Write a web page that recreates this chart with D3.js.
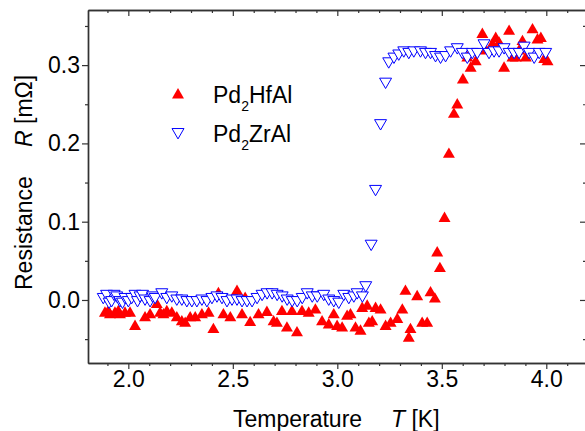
<!DOCTYPE html>
<meta charset="utf-8">
<head>
  <title>Resistance vs temperature</title>
</head>
<style>
body {
  margin: 0;
  background: #fff;
}
svg text {
  font-family: "Liberation Sans", Arial, sans-serif;
  fill: #000;
}
</style>
<body>
<script src="https://cdnjs.cloudflare.com/ajax/libs/d3/7.8.5/d3.min.js"></script>
<script>

// Pd2HfAl (red, filled up-triangles)
var hfT = [1.888, 1.904, 1.912, 1.936, 1.952, 1.960, 1.984, 2.008, 2.032, 2.056,
  2.080, 2.104, 2.136, 2.152, 2.168, 2.184, 2.208, 2.232, 2.256, 2.272,
  2.296, 2.320, 2.352, 2.384, 2.407, 2.431, 2.455, 2.488, 2.520, 2.544,
  2.559, 2.583, 2.623, 2.663, 2.695, 2.711, 2.735, 2.759, 2.783, 2.807,
  2.831, 2.863, 2.895, 2.927, 2.959, 2.983, 2.999, 3.023, 3.047, 3.063,
  3.087, 3.111, 3.119, 3.143, 3.151, 3.167, 3.183, 3.207, 3.231, 3.255,
  3.287, 3.311, 3.326, 3.342, 3.350, 3.382, 3.406, 3.430, 3.446, 3.467,
  3.478, 3.491, 3.513, 3.534, 3.558, 3.574, 3.601, 3.622, 3.638, 3.662,
  3.694, 3.710, 3.742, 3.758, 3.774, 3.798, 3.822, 3.838, 3.854, 3.870,
  3.886, 3.902, 3.934, 3.958, 3.974, 3.990, 4.006];
var hfR = [-0.015, -0.013, -0.017, -0.015, -0.013, -0.017, -0.015, -0.015, -0.032, 0.006,
  -0.021, -0.017, -0.004, -0.015, -0.017, -0.013, -0.015, -0.021, -0.026, -0.028,
  -0.021, -0.021, -0.017, -0.015, -0.036, 0.010, -0.017, -0.021, 0.013, -0.017,
  0.004, -0.027, -0.017, -0.014, -0.026, -0.028, -0.013, -0.034, -0.013, -0.040,
  -0.013, -0.015, -0.011, -0.026, -0.030, -0.017, -0.032, -0.034, -0.019, -0.017,
  -0.034, -0.038, -0.009, -0.006, -0.028, -0.026, -0.009, -0.011, -0.032, -0.028,
  -0.023, -0.011, 0.013, -0.047, -0.036, 0.006, -0.028, -0.028, 0.011, 0.003,
  0.062, 0.042, 0.106, 0.188, 0.239, 0.251, 0.283, 0.311, 0.298, 0.306,
  0.341, 0.320, 0.328, 0.336, 0.330, 0.298, 0.345, 0.311, 0.311, 0.320,
  0.332, 0.311, 0.347, 0.334, 0.336, 0.309, 0.306];

// Pd2ZrAl (blue, open down-triangles)
var zrT = [1.880, 1.896, 1.908, 1.920, 1.932, 1.944, 1.960, 1.972, 1.984, 2.000,
  2.016, 2.032, 2.044, 2.056, 2.068, 2.080, 2.104, 2.116, 2.128, 2.160,
  2.184, 2.208, 2.232, 2.256, 2.280, 2.304, 2.328, 2.352, 2.376, 2.400,
  2.424, 2.448, 2.472, 2.496, 2.520, 2.544, 2.568, 2.592, 2.616, 2.640,
  2.664, 2.688, 2.712, 2.736, 2.760, 2.784, 2.808, 2.832, 2.856, 2.880,
  2.904, 2.935, 2.959, 2.983, 3.007, 3.031, 3.055, 3.079, 3.095, 3.120,
  3.136, 3.162, 3.183, 3.207, 3.231, 3.246, 3.271, 3.294, 3.318, 3.342,
  3.366, 3.398, 3.422, 3.446, 3.470, 3.494, 3.518, 3.542, 3.574, 3.598,
  3.622, 3.646, 3.670, 3.702, 3.726, 3.750, 3.774, 3.798, 3.822, 3.846,
  3.870, 3.894, 3.918, 3.942, 3.966, 3.997];
var zrR = [0.002, 0.006, -0.004, -0.002, 0.006, 0.004, -0.002, -0.004, 0.002, -0.002,
  0.002, 0.006, -0.002, 0.004, 0.006, 0.000, -0.002, 0.004, 0.002, 0.008,
  0.002, 0.004, 0.000, 0.000, -0.002, -0.002, -0.002, 0.000, -0.002, 0.002,
  0.004, 0.002, -0.002, 0.000, 0.000, -0.002, -0.002, -0.002, 0.002, 0.006,
  0.008, 0.008, 0.006, 0.004, 0.000, -0.002, -0.002, 0.002, 0.008, 0.004,
  0.004, 0.006, 0.000, -0.002, -0.004, 0.006, 0.002, 0.004, 0.008, 0.004,
  0.017, 0.070, 0.140, 0.224, 0.277, 0.303, 0.309, 0.313, 0.317, 0.315,
  0.317, 0.317, 0.315, 0.315, 0.311, 0.309, 0.311, 0.317, 0.321, 0.315,
  0.309, 0.315, 0.315, 0.326, 0.315, 0.317, 0.317, 0.321, 0.315, 0.315,
  0.315, 0.323, 0.315, 0.309, 0.315, 0.315];

var xMajor = [2.0, 2.5, 3.0, 3.5, 4.0];
var yMajor = [0.0, 0.1, 0.2, 0.3];
var seriesNames = ["HfAl", "ZrAl"];

var w = 585, h = 431;

var svg = d3.select("body")
  .append("svg")
  .attr("width", w)
  .attr("height", h);

var x = d3.scaleLinear().domain([1.807, 4.19]).range([88, 586]);
var y = d3.scaleLinear().domain([-0.0805, 0.3704]).range([363, 10]);

// minor ticks every 0.1 K and 0.05 mOhm
var xMinor = d3.range(19, 42).map(function(d) { return d / 10; })
  .filter(function(d) { return Math.abs(d * 2 - Math.round(d * 2)) > 1e-6; });
var yMinor = [-0.05, 0.05, 0.15, 0.25, 0.35];

var fmt = d3.format(".1f");
var axisColor = "#333";

function styleAxis(g, showLabels) {
  g.select(".domain").attr("stroke", axisColor).attr("stroke-width", 1.4);
  g.selectAll(".tick line").attr("stroke", axisColor).attr("stroke-width", 1.2);
  g.selectAll(".tick text")
    .attr("font-size", 23)
    .attr("fill", "#000")
    .style("display", showLabels ? null : "none");
  g.attr("font-family", null);
}

// bottom
svg.append("g")
  .attr("transform", "translate(0,363)")
  .call(d3.axisBottom(x).tickValues(xMajor).tickFormat(fmt).tickSize(6).tickSizeOuter(0).tickPadding(2))
  .call(styleAxis, true);
svg.append("g")
  .attr("transform", "translate(0,363)")
  .call(d3.axisBottom(x).tickValues(xMinor).tickSize(3).tickSizeOuter(0))
  .call(styleAxis, false);

// top (ticks inward)
svg.append("g")
  .attr("transform", "translate(0,10)")
  .call(d3.axisTop(x).tickValues(xMajor).tickSize(-6).tickSizeOuter(0))
  .call(styleAxis, false);
svg.append("g")
  .attr("transform", "translate(0,10)")
  .call(d3.axisTop(x).tickValues(xMinor).tickSize(-3).tickSizeOuter(0))
  .call(styleAxis, false);

// left
svg.append("g")
  .attr("transform", "translate(88,0)")
  .call(d3.axisLeft(y).tickValues(yMajor).tickFormat(fmt).tickSize(6).tickSizeOuter(0).tickPadding(2))
  .call(styleAxis, true);
svg.append("g")
  .attr("transform", "translate(88,0)")
  .call(d3.axisLeft(y).tickValues(yMinor).tickSize(3).tickSizeOuter(0))
  .call(styleAxis, false);

// right (ticks inward)
svg.append("g")
  .attr("transform", "translate(586,0)")
  .call(d3.axisRight(y).tickValues(yMajor).tickSize(-6).tickSizeOuter(0))
  .call(styleAxis, false);
svg.append("g")
  .attr("transform", "translate(586,0)")
  .call(d3.axisRight(y).tickValues(yMinor).tickSize(-3).tickSizeOuter(0))
  .call(styleAxis, false);

var tri = d3.symbol().type(d3.symbolTriangle).size(62);

var hfData = hfT.map(function(t, i) { return {t: t, r: hfR[i]}; });
var zrData = zrT.map(function(t, i) { return {t: t, r: zrR[i]}; });

var plot = svg.append("g");

plot.selectAll(".hf")
  .data(hfData)
  .enter()
  .append("path")
  .attr("class", "hf")
  .attr("d", tri)
  .attr("fill", "#ff0000")
  .attr("transform", function(d) { return "translate(" + x(d.t) + "," + (y(d.r) + 1.5) + ")"; });

plot.selectAll(".zr")
  .data(zrData)
  .enter()
  .append("path")
  .attr("class", "zr")
  .attr("d", tri)
  .attr("fill", "#fff")
  .attr("stroke", "#0000ff")
  .attr("stroke-width", 1)
  .attr("transform", function(d) { return "translate(" + x(d.t) + "," + (y(d.r) - 1.5) + ") rotate(180)"; });

// legend
var legend = svg.append("g");
legend.append("path")
  .attr("d", tri)
  .attr("fill", "#ff0000")
  .attr("transform", "translate(178,95)");
legend.append("path")
  .attr("d", tri)
  .attr("fill", "#fff")
  .attr("stroke", "#0000ff")
  .attr("stroke-width", 1)
  .attr("transform", "translate(178,132) rotate(180)");

[103, 142].forEach(function(base, i) {
  var t = legend.append("text")
    .attr("x", 213)
    .attr("y", base)
    .attr("font-size", 23);
  t.append("tspan").text("Pd");
  t.append("tspan").attr("font-size", 14).attr("dy", 8).text("2");
  t.append("tspan").attr("dy", -8).text(seriesNames[i]);
});

// axis titles
var xt = svg.append("text")
  .attr("y", 427)
  .attr("font-size", 23);
xt.append("tspan").attr("x", 233).text("Temperature");
xt.append("tspan").attr("x", 391).attr("font-style", "italic").text("T");
xt.append("tspan").text(" [K]");

var yt = svg.append("text")
  .attr("transform", "translate(32,290) rotate(-90)")
  .attr("font-size", 23);
yt.append("tspan").attr("x", 0).text("Resistance");
yt.append("tspan").attr("x", 143).attr("font-style", "italic").text("R");
yt.append("tspan").text(" [m\u03A9]");

</script>
</body>
</html>
